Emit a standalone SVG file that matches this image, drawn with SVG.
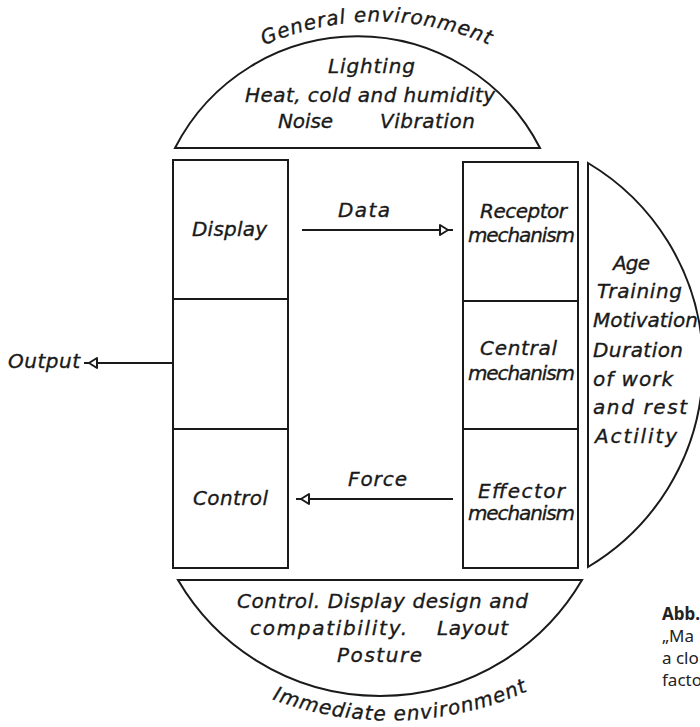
<svg xmlns="http://www.w3.org/2000/svg" width="700" height="727" viewBox="0 0 700 727">
<style>
  .ln { fill: none; stroke: #1a1a1a; stroke-width: 2; stroke-linejoin: round; }
  .bx { fill: #ffffff; stroke: #1a1a1a; stroke-width: 2; }
  .seg { fill: #ffffff; stroke: #1a1a1a; stroke-width: 2; }
  .t { font-family: "DejaVu Sans", sans-serif; font-style: oblique; font-size: 20px; fill: #1a1a1a; stroke: #1a1a1a; stroke-width: 0.35; }
  .cap { font-family: "Noto Sans", "Open Sans", sans-serif; font-size: 17px; fill: #222; }
</style>
<defs>
  <marker id="arr" markerUnits="userSpaceOnUse" markerWidth="20" markerHeight="16" viewBox="-15 -8 20 16" refX="0" refY="0" orient="auto" overflow="visible">
    <path d="M-13,-5 L-5,0 L-13,5 Z" fill="#ffffff" stroke="#1a1a1a" stroke-width="2" stroke-linejoin="round"/>
  </marker>
  <path id="topArc" d="M 232,62 A 280,280 0 0 1 522,62"/>
  <path id="botArc" d="M 250,690 A 336,336 0 0 0 550,680"/>
</defs>
<rect width="700" height="727" fill="#ffffff"/>

<g id="general-environment">
  <path class="seg" d="M175,148 A205,205 0 0 1 540,148 Z"/>
  <text class="t" letter-spacing="1"><textPath href="#topArc" startOffset="50%" text-anchor="middle">General environment</textPath></text>
  <text class="t" x="328" y="73" textLength="87" lengthAdjust="spacing">Lighting</text>
  <text class="t" x="245" y="102" textLength="250" lengthAdjust="spacing">Heat, cold and humidity</text>
  <text class="t" x="278" y="128" textLength="55" lengthAdjust="spacing">Noise</text>
  <text class="t" x="380" y="128" textLength="95" lengthAdjust="spacing">Vibration</text>
</g>

<g id="immediate-environment">
  <path class="seg" d="M178,580 L582,580 A234,234 0 0 1 178,580 Z"/>
  <text class="t" x="237" y="608" textLength="291" lengthAdjust="spacing">Control. Display design and</text>
  <text class="t" x="250" y="635" textLength="157" lengthAdjust="spacing">compatibility.</text>
  <text class="t" x="437" y="635" textLength="71" lengthAdjust="spacing">Layout</text>
  <text class="t" x="337" y="662" textLength="85" lengthAdjust="spacing">Posture</text>
  <text class="t" letter-spacing="1"><textPath href="#botArc" startOffset="50%" text-anchor="middle">Immediate environment</textPath></text>
</g>

<g id="personal-factors">
  <path class="seg" d="M588,163 A235,235 0 0 1 588,567 Z"/>
  <text class="t" x="613" y="270" textLength="37" lengthAdjust="spacing">Age</text>
  <text class="t" x="597" y="298" textLength="85" lengthAdjust="spacing">Training</text>
  <text class="t" x="593" y="327" textLength="105" lengthAdjust="spacing">Motivation</text>
  <text class="t" x="593" y="357" textLength="90" lengthAdjust="spacing">Duration</text>
  <text class="t" x="593" y="386" textLength="80" lengthAdjust="spacing">of work</text>
  <text class="t" x="593" y="414" textLength="94" lengthAdjust="spacing">and rest</text>
  <text class="t" x="595" y="443" textLength="82" lengthAdjust="spacing">Actility</text>
</g>

<g id="display">
  <rect class="bx" x="173" y="160" width="115" height="139"/>
  <text class="t" x="192" y="236" textLength="75" lengthAdjust="spacing">Display</text>
</g>
<g id="machine-middle">
  <rect class="bx" x="173" y="299" width="115" height="130"/>
</g>
<g id="control">
  <rect class="bx" x="173" y="429" width="115" height="139"/>
  <text class="t" x="193" y="505" textLength="75" lengthAdjust="spacing">Control</text>
</g>

<g id="receptor-mechanism">
  <rect class="bx" x="463" y="162" width="115" height="139"/>
  <text class="t" x="480" y="218" textLength="87" lengthAdjust="spacing">Receptor</text>
  <text class="t" x="468" y="242" textLength="107" lengthAdjust="spacing">mechanism</text>
</g>
<g id="central-mechanism">
  <rect class="bx" x="463" y="301" width="115" height="128"/>
  <text class="t" x="480" y="355" textLength="77" lengthAdjust="spacing">Central</text>
  <text class="t" x="468" y="380" textLength="107" lengthAdjust="spacing">mechanism</text>
</g>
<g id="effector-mechanism">
  <rect class="bx" x="463" y="429" width="115" height="139"/>
  <text class="t" x="478" y="498" textLength="87" lengthAdjust="spacing">Effector</text>
  <text class="t" x="468" y="520" textLength="107" lengthAdjust="spacing">mechanism</text>
</g>

<g id="output">
  <text class="t" x="8" y="368" textLength="72" lengthAdjust="spacing">Output</text>
</g>

<g id="connectors">
  <path class="ln" d="M302,230 L453,230" marker-end="url(#arr)"/>
  <text class="t" x="338" y="217" textLength="52" lengthAdjust="spacing">Data</text>
  <path class="ln" d="M453,499 L296,499" marker-end="url(#arr)"/>
  <text class="t" x="348" y="486" textLength="59" lengthAdjust="spacing">Force</text>
  <path class="ln" d="M173,363 L84,363" marker-end="url(#arr)"/>
</g>

<g id="caption">
  <text class="cap" x="662" y="620" font-weight="bold">Abb.</text>
  <text class="cap" x="662" y="642">„Ma</text>
  <text class="cap" x="662" y="664">a clo</text>
  <text class="cap" x="662" y="686">facto</text>
</g>
</svg>
